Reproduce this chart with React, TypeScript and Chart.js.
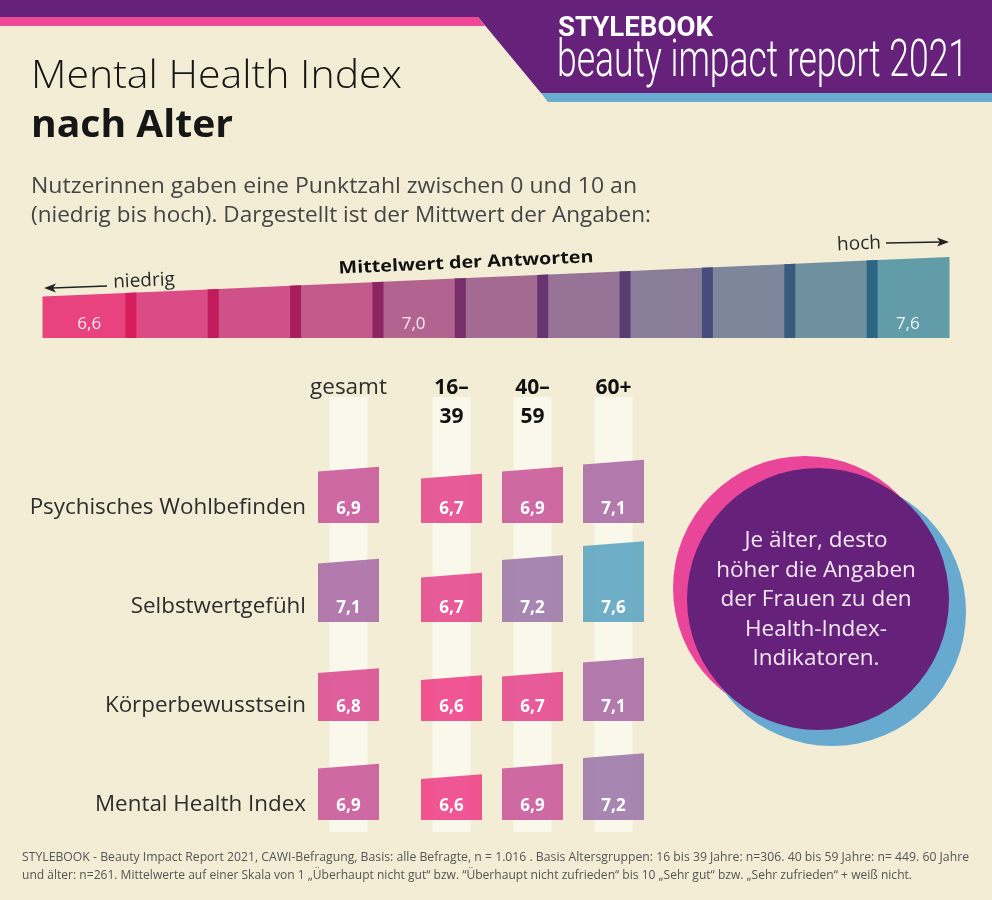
import React, { useEffect, useRef } from "react";
import { Chart, registerables } from "chart.js";

Chart.register(...registerables);

// ---------- data ----------
const rowLabels = ["Psychisches Wohlbefinden", "Selbstwertgefühl", "Körperbewusstsein", "Mental Health Index"];
const totalColumn = ["gesamt"];
const ageColumns = [["16–", "39"], ["40–", "59"], ["60+"]];
const gesamt = [6.9, 7.1, 6.8, 6.9];
const age16to39 = [6.7, 6.7, 6.6, 6.6];
const age40to59 = [6.9, 7.2, 6.7, 6.9];
const age60plus = [7.1, 7.6, 7.1, 7.2];
const scaleSteps = [6.6, 6.7, 6.8, 6.9, 7.0, 7.1, 7.2, 7.3, 7.4, 7.5, 7.6];
const scaleTickLabels = ["6,6", "", "", "", "7,0", "", "", "", "", "", "7,6"];
const circleLines = ["Je älter, desto", "höher die Angaben", "der Frauen zu den", "Health-Index-", "Indikatoren."];
const subtitleLines = [
  "Nutzerinnen gaben eine Punktzahl zwischen 0 und 10 an",
  "(niedrig bis hoch). Dargestellt ist der Mittwert der Angaben:",
];
const footerLines = [
  "STYLEBOOK - Beauty Impact Report 2021, CAWI-Befragung, Basis: alle Befragte, n = 1.016 . Basis Altersgruppen: 16 bis 39 Jahre: n=306. 40 bis 59 Jahre: n= 449. 60 Jahre",
  "und älter: n=261. Mittelwerte auf einer Skala von 1 „Überhaupt nicht gut“ bzw. “Überhaupt nicht zufrieden“ bis 10 „Sehr gut“ bzw. „Sehr zufrieden“ + weiß nicht.",
];

// ---------- styles ----------
const BG = "#f3edd5";
const STRIPE = "#faf7eb";
const PURPLE = "#66217a";
const PINK = "#ef4798";
const BLUE = "#6aabd0";
const FONT = '"Open Sans", "Noto Sans", sans-serif';
const scalePalette = ["#e8437f", "#db4b85", "#cf5189", "#c25a8c", "#b2638f", "#a56a92", "#967397", "#8a7d9a", "#7d879c", "#6f919f", "#619ca8"];
const scaleEdgePalette = ["#e8437f", "#d91d5c", "#c21a5a", "#a81e5c", "#8d2562", "#762f69", "#67346f", "#573e73", "#474d7a", "#3a597f", "#2d6585"];
const cellPalette = ["#ee3f88", "#e4458c", "#d94a90", "#c8559a", "#b85f9f", "#a96aa4", "#9b76aa", "#8b81b0", "#7b8cb6", "#6b98bc", "#5ba4c2"];
const VALUE_MIN = 5.36;
const VALUE_MAX = 8.19;
const SCALE_MIN = 5.4;
const SCALE_MAX = 7.9;

const fmt = (v: number) => v.toFixed(1).replace(".", ",");
const cellColor = (v: number) => cellPalette[Math.max(0, Math.min(10, Math.round((v - 6.6) * 10)))];

function fitText(ctx: CanvasRenderingContext2D, text: string, x: number, y: number, width: number, align: CanvasTextAlign = "left") {
  const w = ctx.measureText(text).width || 1;
  ctx.save();
  ctx.translate(x, y);
  ctx.scale(width / w, 1);
  ctx.textAlign = align;
  ctx.fillText(text, 0, 0);
  ctx.restore();
}

function poly(ctx: CanvasRenderingContext2D, color: string, pts: number[][]) {
  ctx.fillStyle = color;
  ctx.beginPath();
  pts.forEach((p, i) => (i ? ctx.lineTo(p[0], p[1]) : ctx.moveTo(p[0], p[1])));
  ctx.closePath();
  ctx.fill();
}

function arrow(ctx: CanvasRenderingContext2D, x1: number, y1: number, x2: number, y2: number) {
  ctx.strokeStyle = "#222";
  ctx.fillStyle = "#222";
  ctx.lineWidth = 1.5;
  const dir = Math.sign(x2 - x1);
  ctx.beginPath();
  ctx.moveTo(x1, y1);
  ctx.lineTo(x2 - dir * 8, y2);
  ctx.stroke();
  ctx.beginPath();
  ctx.moveTo(x2, y2);
  ctx.lineTo(x2 - dir * 12, y2 - 4.5);
  ctx.lineTo(x2 - dir * 9, y2);
  ctx.lineTo(x2 - dir * 12, y2 + 4.5);
  ctx.closePath();
  ctx.fill();
}

// ---------- decor + scale bar plugins ----------
const decorPlugin = {
  id: "decor",
  beforeDraw(chart: any) {
    const ctx: CanvasRenderingContext2D = chart.ctx;
    ctx.save();
    ctx.fillStyle = BG;
    ctx.fillRect(0, 0, chart.width, chart.height);
    poly(ctx, PURPLE, [[0, 0], [992, 0], [992, 93], [541, 93], [478, 17], [0, 17]]);
    poly(ctx, PINK, [[0, 17], [478, 17], [485, 26], [0, 26]]);
    poly(ctx, BLUE, [[541, 93], [992, 93], [992, 102], [548, 102]]);
    ctx.textBaseline = "alphabetic";
    ctx.fillStyle = "#ffffff";
    ctx.font = "bold 27px Roboto, sans-serif";
    fitText(ctx, "STYLEBOOK", 558, 36, 155);
    ctx.font = "300 52px Roboto, sans-serif";
    fitText(ctx, "beauty impact report 2021", 557, 76, 411);

    ctx.fillStyle = "#161616";
    ctx.font = `300 39px ${FONT}`;
    fitText(ctx, "Mental Health Index", 31, 88, 371);
    ctx.font = `bold 38px ${FONT}`;
    fitText(ctx, "nach Alter", 31, 137, 202);

    ctx.fillStyle = "#454545";
    ctx.font = `22px ${FONT}`;
    fitText(ctx, subtitleLines[0], 31, 193, 606);
    fitText(ctx, subtitleLines[1], 31, 222, 620);

    // scale annotations
    const ang = Math.atan2(-41, 906);
    ctx.fillStyle = "#2a2a2a";
    ctx.font = `19px ${FONT}`;
    ctx.save();
    ctx.translate(144, 281);
    ctx.rotate(ang);
    ctx.textAlign = "center";
    ctx.textBaseline = "middle";
    ctx.fillText("niedrig", 0, 0);
    ctx.restore();
    ctx.save();
    ctx.translate(859, 244);
    ctx.rotate(ang);
    ctx.textAlign = "center";
    ctx.textBaseline = "middle";
    ctx.fillText("hoch", 0, 0);
    ctx.restore();
    arrow(ctx, 107, 286, 44, 288);
    arrow(ctx, 886, 243, 949, 242);
    ctx.fillStyle = "#111";
    ctx.font = `bold 17px ${FONT}`;
    ctx.save();
    ctx.translate(466, 263);
    ctx.rotate(ang);
    ctx.textBaseline = "middle";
    fitText(ctx, "Mittelwert der Antworten", 0, 0, 255, "center");
    ctx.restore();

    // circle
    const circ = (cx: number, cy: number, r: number, c: string) => {
      ctx.fillStyle = c;
      ctx.beginPath();
      ctx.arc(cx, cy, r, 0, Math.PI * 2);
      ctx.fill();
    };
    circ(805, 588, 132, "#ea4699");
    circ(832, 612, 134, "#68a9cf");
    circ(818, 599, 131, PURPLE);
    ctx.fillStyle = "#f4e8f2";
    ctx.font = `22.5px ${FONT}`;
    ctx.textAlign = "center";
    ctx.textBaseline = "middle";
    circleLines.forEach((l, i) => ctx.fillText(l, 816, 541 + i * 29.5));

    // footer
    ctx.fillStyle = "#555";
    ctx.textAlign = "left";
    ctx.textBaseline = "alphabetic";
    ctx.font = `12px ${FONT}`;
    fitText(ctx, footerLines[0], 22, 861, 947);
    fitText(ctx, footerLines[1], 22, 879, 890);
    ctx.restore();
  },
};

const scaleBarPlugin = {
  id: "scaleBar",
  beforeDatasetDraw(chart: any, args: any) {
    const ctx: CanvasRenderingContext2D = chart.ctx;
    const ys = chart.scales.y;
    const ds = chart.data.datasets[args.index];
    ctx.save();
    args.meta.data.forEach((bar: any, i: number) => {
      const p = bar.getProps(["x", "y", "base", "width"], true);
      const v = ds.data[i];
      const l = p.x - p.width / 2;
      const r = p.x + p.width / 2;
      const yl = ys.getPixelForValue(v - 0.05);
      const yr = ys.getPixelForValue(v + 0.05);
      poly(ctx, bar.options.backgroundColor, [[l - 0.5, p.base], [l - 0.5, yl], [r + 0.5, yr], [r + 0.5, p.base]]);
      if (i > 0) {
        const sw = 11;
        const ys2 = yl + ((yr - yl) * sw) / p.width;
        poly(ctx, bar.options.borderColor, [[l, p.base], [l, yl], [l + sw, ys2], [l + sw, p.base]]);
      }
      const t = scaleTickLabels[i];
      if (t) {
        ctx.fillStyle = "rgba(255,255,255,0.88)";
        ctx.font = `17px ${FONT}`;
        ctx.textAlign = "center";
        ctx.textBaseline = "middle";
        ctx.fillText(t, p.x + (i === 0 ? 5 : 0), p.base - 14);
      }
    });
    ctx.restore();
    return false;
  },
};

// ---------- grid plugin ----------
const gridPlugin = {
  id: "grid",
  beforeDatasetsDraw(chart: any) {
    const ctx: CanvasRenderingContext2D = chart.ctx;
    const xs = chart.scales.x;
    const area = chart.chartArea;
    ctx.save();
    ctx.fillStyle = STRIPE;
    chart.data.labels.forEach((_: any, i: number) => {
      const cx = xs.getPixelForValue(i);
      ctx.fillRect(cx - 19, area.top - 27, 38, area.bottom - area.top + 39);
    });
    ctx.restore();
  },
  beforeDatasetDraw(chart: any, args: any) {
    const ctx: CanvasRenderingContext2D = chart.ctx;
    const ds = chart.data.datasets[args.index];
    ctx.save();
    args.meta.data.forEach((bar: any, i: number) => {
      const p = bar.getProps(["x", "y", "base", "width"], true);
      const l = p.x - p.width / 2;
      const r = p.x + p.width / 2;
      ctx.globalAlpha = 0.88;
      poly(ctx, bar.options.backgroundColor, [[l, p.base], [l, p.y + 2.3], [r, p.y - 2.3], [r, p.base]]);
      ctx.globalAlpha = 1;
      ctx.fillStyle = "#ffffff";
      ctx.font = `bold 17px ${FONT}`;
      ctx.textAlign = "center";
      ctx.textBaseline = "middle";
      ctx.fillText(fmt(ds.data[i]), p.x, p.base - 14);
    });
    ctx.restore();
    return false;
  },
  afterDraw(chart: any, _args: any, opts: any) {
    const ctx: CanvasRenderingContext2D = chart.ctx;
    const xs = chart.scales.x;
    const area = chart.chartArea;
    ctx.save();
    ctx.textAlign = "center";
    ctx.textBaseline = "middle";
    ctx.fillStyle = opts.headerColor;
    ctx.font = opts.headerFont;
    chart.data.labels.forEach((lab: any, i: number) => {
      const cx = xs.getPixelForValue(i);
      const lines = Array.isArray(lab) ? lab : [lab];
      lines.forEach((t: string, j: number) => ctx.fillText(t, cx, area.top - 36 + j * 29));
    });
    if (opts.showRows) {
      ctx.textAlign = "right";
      ctx.fillStyle = "#2e2e2e";
      ctx.font = `22.4px ${FONT}`;
      rowLabels.forEach((t, k) => {
        const s = chart.scales["row" + k];
        ctx.fillText(t, area.left - 2, s.bottom - 15);
      });
    }
    ctx.restore();
  },
};

function gridConfig(columns: any[], columnValues: number[][], pad: any, headerFont: string, headerColor: string, showRows: boolean) {
  const datasets = rowLabels.map((label, k) => {
    const data = columnValues.map((col) => col[k]);
    return {
      label,
      data,
      yAxisID: "row" + k,
      grouped: false,
      base: VALUE_MIN,
      backgroundColor: data.map(cellColor),
      barPercentage: 61 / 81,
      categoryPercentage: 1,
    };
  });
  const scales: any = { x: { type: "category", display: false } };
  rowLabels.forEach((_, k) => {
    scales["row" + k] = {
      type: "linear",
      display: false,
      position: "left",
      stack: "rows",
      stackWeight: 1,
      weight: rowLabels.length - k,
      min: VALUE_MIN,
      max: VALUE_MAX,
    };
  });
  return {
    type: "bar",
    data: { labels: columns, datasets },
    options: {
      responsive: false,
      animation: false,
      layout: { padding: pad },
      scales,
      plugins: {
        legend: { display: false },
        tooltip: { enabled: false },
        grid: { headerFont, headerColor, showRows },
      },
    },
    plugins: [gridPlugin],
  };
}

export default function App() {
  const decorRef = useRef<HTMLCanvasElement>(null);
  const totalRef = useRef<HTMLCanvasElement>(null);
  const ageRef = useRef<HTMLCanvasElement>(null);

  useEffect(() => {
    const charts: Chart[] = [];
    charts.push(
      new Chart(decorRef.current!, {
        type: "bar",
        data: {
          labels: scaleSteps.map(fmt),
          datasets: [
            {
              label: "Mittelwert der Antworten",
              data: scaleSteps,
              base: SCALE_MIN,
              backgroundColor: scalePalette,
              borderColor: scaleEdgePalette,
              borderWidth: 0,
              barPercentage: 1,
              categoryPercentage: 1,
            },
          ],
        },
        options: {
          responsive: false,
          animation: false,
          layout: { padding: { left: 43, right: 43, top: 248, bottom: 562 } },
          scales: { x: { display: false }, y: { display: false, min: SCALE_MIN, max: SCALE_MAX } },
          plugins: { legend: { display: false }, tooltip: { enabled: false } },
        },
        plugins: [decorPlugin, scaleBarPlugin],
      } as any)
    );
    charts.push(
      new Chart(
        totalRef.current!,
        gridConfig(totalColumn, [gesamt], { left: 308, right: 11, top: 54, bottom: 20 }, `22.5px ${FONT}`, "#2e2e2e", true) as any
      )
    );
    charts.push(
      new Chart(
        ageRef.current!,
        gridConfig(ageColumns, [age16to39, age40to59, age60plus], { left: 11, right: 6, top: 54, bottom: 20 }, `bold 21px ${FONT}`, "#111", false) as any
      )
    );
    return () => charts.forEach((c) => c.destroy());
  }, []);

  return (
    <div style={{ position: "absolute", left: 0, top: 0, width: 992, height: 900, background: BG, overflow: "hidden" }}>
      <canvas ref={decorRef} width={992} height={900} style={{ position: "absolute", left: 0, top: 0 }} />
      <canvas ref={totalRef} width={400} height={470} style={{ position: "absolute", left: 0, top: 370 }} />
      <canvas ref={ageRef} width={260} height={470} style={{ position: "absolute", left: 400, top: 370 }} />
    </div>
  );
}
